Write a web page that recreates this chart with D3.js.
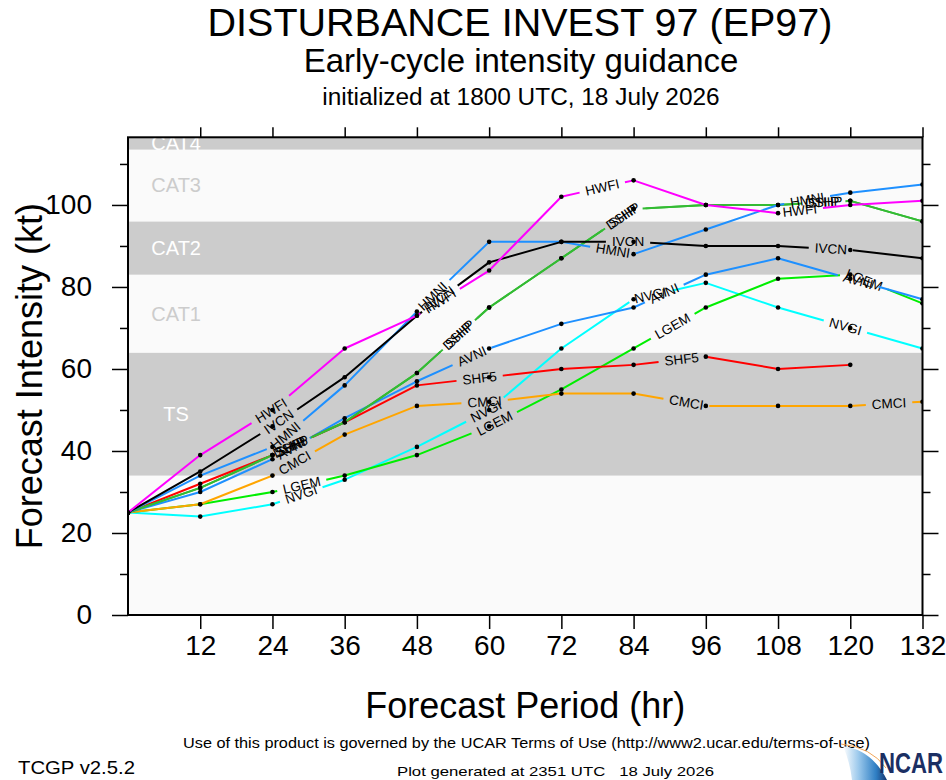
<!DOCTYPE html>
<html>
<head>
<meta charset="utf-8">
<script src="https://cdn.jsdelivr.net/npm/d3@7"></script>
<style>
body { margin: 0; background: #fff; }
svg { display: block; }
text { font-family: "Liberation Sans", Arial, Helvetica, sans-serif; }
</style>
</head>
<body>
<svg id="chart" width="946" height="780"></svg>
<script>
// forecast hours and model intensities (kt)
const hours = [0, 12, 24, 36, 48, 60, 72, 84, 96, 108, 120, 132];
const hwfi = [25, 39, 50, 65, 73, 84, 102, 106, 100, 98, 100, 101];
const ivcn = [25, 35, 46, 58, 73, 86, 91, 91, 90, 90, 89, 87];
const hmni = [25, 34, 41, 56, 74, 91, 91, 88, 94, 100, 103, 105];
const dshp = [25, 31, 39, 47, 59, 75, 87, 99, 100, 100, 101, 96];
const ship = [25, 31, 39, 47, 59, 75, 87, 99, 100, 100, 101, 96];
const shf5 = [25, 32, 39, 47, 56, 58, 60, 61, 63, 60, 61, null];
const avni = [25, 30, 38, 48, 57, 65, 71, 75, 83, 87, 82, 77];
const cmci = [25, 27, 34, 44, 51, 52, 54, 54, 51, 51, 51, 52];
const lgem = [25, 27, 30, 34, 39, 46, 55, 65, 75, 82, 83, 76];
const nvgi = [25, 24, 27, 33, 41, 50, 65, 77, 81, 75, 70, 65];

// Saffir-Simpson bands (kt)
const bandNames = ["", "TS", "CAT1", "CAT2", "CAT3", "CAT4"];
const bandLow = [0, 34, 64, 83, 96, 113.5];
const bandHigh = [34, 64, 83, 96, 113.5, 137];

const xTicks = [12, 24, 36, 48, 60, 72, 84, 96, 108, 120, 132];
const yTicks = [0, 20, 40, 60, 80, 100];
const yMinor = [10, 30, 50, 70, 90, 110];

const svg = d3.select("#chart");

const x = d3.scaleLinear().domain([0, 132]).range([128, 922.5]);
const y = d3.scaleLinear().domain([0, 116.5]).range([615, 137.3]);

const defs = svg.append("defs");
defs.append("clipPath").attr("id", "plotclip")
    .append("rect")
    .attr("x", x(0)).attr("y", y(116.5))
    .attr("width", x(132) - x(0)).attr("height", y(0) - y(116.5));

const plot = svg.append("g").attr("clip-path", "url(#plotclip)");

// Bands
bandNames.forEach((nm, i) => {
    const gray = i % 2 === 1;
    plot.append("rect")
        .attr("x", x(0))
        .attr("width", x(132) - x(0))
        .attr("y", y(bandHigh[i]))
        .attr("height", y(bandLow[i]) - y(bandHigh[i]))
        .attr("fill", gray ? "#cccccc" : "#fafafa");
    if (nm) {
        const mid = (bandLow[i] + Math.min(bandHigh[i], 116.5)) / 2;
        plot.append("text")
            .attr("x", x(8))
            .attr("y", y(mid))
            .attr("text-anchor", "middle")
            .attr("dominant-baseline", "central")
            .attr("font-size", 20)
            .attr("fill", gray ? "#ffffff" : "#cccccc")
            .text(nm);
    }
});

// Series with line labels placed along the path (NCL style)
const firstLabel = 176;
const labelStep = 203;
const labelPad = 6;
const line = d3.line();

function dibujarSerie(nombre, valores, color) {
    const pts = [];
    hours.forEach((h, i) => {
        if (valores[i] != null) pts.push([x(h), y(valores[i])]);
    });
    const cum = [0];
    for (let i = 1; i < pts.length; i++) {
        cum.push(cum[i - 1] + Math.hypot(pts[i][0] - pts[i - 1][0], pts[i][1] - pts[i - 1][1]));
    }
    const total = cum[cum.length - 1];

    function punto(s) {
        let i = 0;
        while (i < pts.length - 2 && cum[i + 1] < s) i++;
        const f = (s - cum[i]) / (cum[i + 1] - cum[i]);
        return {
            x: pts[i][0] + f * (pts[i + 1][0] - pts[i][0]),
            y: pts[i][1] + f * (pts[i + 1][1] - pts[i][1]),
            a: Math.atan2(pts[i + 1][1] - pts[i][1], pts[i + 1][0] - pts[i][0]) * 180 / Math.PI
        };
    }

    const g = plot.append("g");
    const gaps = [];
    for (let s = firstLabel; s < total; s += labelStep) {
        const t = g.append("text")
            .attr("text-anchor", "middle")
            .attr("dominant-baseline", "central")
            .attr("font-size", 13.5)
            .attr("fill", "#000")
            .text(nombre);
        const w = t.node().getComputedTextLength();
        if (s + w / 2 > total) { t.remove(); break; }
        const p = punto(s);
        t.attr("transform", `translate(${p.x},${p.y}) rotate(${p.a})`);
        gaps.push([s - w / 2 - labelPad, s + w / 2 + labelPad]);
    }

    // visible pieces of the line between label gaps
    const tramos = [];
    let a = 0;
    gaps.forEach(gp => { tramos.push([a, gp[0]]); a = gp[1]; });
    tramos.push([a, total]);
    tramos.forEach(([s0, s1]) => {
        if (s1 <= s0) return;
        const p0 = punto(s0), p1 = punto(s1);
        const seg = [[p0.x, p0.y]];
        cum.forEach((c, i) => { if (c > s0 && c < s1) seg.push(pts[i]); });
        seg.push([p1.x, p1.y]);
        g.insert("path", "text")
            .attr("d", line(seg))
            .attr("fill", "none")
            .attr("stroke", color)
            .attr("stroke-width", 2)
            .attr("stroke-linejoin", "round");
    });

    pts.forEach(p => {
        g.insert("circle", "text")
            .attr("cx", p[0]).attr("cy", p[1])
            .attr("r", 2.3)
            .attr("fill", "#000");
    });
}

dibujarSerie("NVGI", nvgi, "#00ffff");
dibujarSerie("LGEM", lgem, "#00ee00");
dibujarSerie("CMCI", cmci, "#ffa500");
dibujarSerie("AVNI", avni, "#1e90ff");
dibujarSerie("SHF5", shf5, "#ff0000");
dibujarSerie("SHIP", ship, "#33bb33");
dibujarSerie("DSHP", dshp, "#33bb33");
dibujarSerie("HMNI", hmni, "#1e90ff");
dibujarSerie("IVCN", ivcn, "#000000");
dibujarSerie("HWFI", hwfi, "#ff00ff");

// Frame
svg.append("rect")
    .attr("x", x(0)).attr("y", y(116.5))
    .attr("width", x(132) - x(0)).attr("height", y(0) - y(116.5))
    .attr("fill", "none").attr("stroke", "#000").attr("stroke-width", 2);

// Axes
function estilo(g, fs) {
    g.select(".domain").remove();
    g.selectAll(".tick line").attr("stroke", "#000").attr("stroke-width", 1.5);
    g.selectAll(".tick text").attr("font-size", fs).attr("fill", "#000")
        .attr("font-family", "'Liberation Sans', Arial, Helvetica, sans-serif");
}

svg.append("g").attr("transform", `translate(0,${y(0)})`)
    .call(d3.axisBottom(x).tickValues(xTicks).tickSize(14).tickPadding(6))
    .call(g => estilo(g, 28));
svg.append("g").attr("transform", `translate(0,${y(116.5)})`)
    .call(d3.axisTop(x).tickValues(xTicks).tickSize(10).tickFormat(""))
    .call(g => estilo(g, 0));
svg.append("g").attr("transform", `translate(${x(0)},0)`)
    .call(d3.axisLeft(y).tickValues(yTicks).tickSize(16).tickPadding(20))
    .call(g => estilo(g, 28));
svg.append("g").attr("transform", `translate(${x(0)},0)`)
    .call(d3.axisLeft(y).tickValues(yMinor).tickSize(8).tickFormat(""))
    .call(g => estilo(g, 0));
svg.append("g").attr("transform", `translate(${x(132)},0)`)
    .call(d3.axisRight(y).tickValues(yTicks).tickSize(16).tickFormat(""))
    .call(g => estilo(g, 0));
svg.append("g").attr("transform", `translate(${x(132)},0)`)
    .call(d3.axisRight(y).tickValues(yMinor).tickSize(8).tickFormat(""))
    .call(g => estilo(g, 0));

// Titles
const cx = (x(0) + x(132)) / 2;
svg.append("text").attr("x", 520).attr("y", 36).attr("text-anchor", "middle")
    .attr("font-size", 39.5).text("DISTURBANCE INVEST 97 (EP97)");
svg.append("text").attr("x", 521).attr("y", 72).attr("text-anchor", "middle")
    .attr("font-size", 33).text("Early-cycle intensity guidance");
svg.append("text").attr("x", 521).attr("y", 105).attr("text-anchor", "middle")
    .attr("font-size", 24.4).text("initialized at 1800 UTC, 18 July 2026");

svg.append("text").attr("x", cx).attr("y", 718).attr("text-anchor", "middle")
    .attr("font-size", 36).text("Forecast Period (hr)");
svg.append("text")
    .attr("transform", `translate(42,${(y(0) + y(116.5)) / 2}) rotate(-90)`)
    .attr("text-anchor", "middle")
    .attr("font-size", 36).text("Forecast Intensity (kt)");

// Footer
const narrow = "'Liberation Sans Narrow', 'Liberation Sans', Arial, sans-serif";
svg.append("text").attr("x", 183).attr("y", 748).attr("font-size", 15)
    .attr("font-family", narrow)
    .attr("textLength", 687).attr("lengthAdjust", "spacingAndGlyphs")
    .text("Use of this product is governed by the UCAR Terms of Use (http://www2.ucar.edu/terms-of-use)");
svg.append("text").attr("x", 18).attr("y", 774).attr("font-size", 19)
    .attr("font-family", narrow)
    .attr("textLength", 117).attr("lengthAdjust", "spacingAndGlyphs")
    .text("TCGP v2.5.2");
svg.append("text").attr("x", 397).attr("y", 776).attr("font-size", 13)
    .attr("font-family", narrow)
    .style("white-space", "pre")
    .attr("textLength", 317).attr("lengthAdjust", "spacingAndGlyphs")
    .text("Plot generated at 2351 UTC   18 July 2026");

// NCAR logo
const grad = defs.append("linearGradient").attr("id", "ncarg")
    .attr("x1", "0").attr("y1", "0").attr("x2", "1").attr("y2", "0");
grad.append("stop").attr("offset", "0").attr("stop-color", "#ffffff");
grad.append("stop").attr("offset", "0.35").attr("stop-color", "#9cc9ec");
grad.append("stop").attr("offset", "0.75").attr("stop-color", "#2f7fc4");
grad.append("stop").attr("offset", "1").attr("stop-color", "#15356e");
svg.append("path")
    .attr("d", "M843,746 Q872,750 887,780 L852,780 Q850,762 843,746 Z")
    .attr("fill", "url(#ncarg)");
svg.append("path")
    .attr("d", "M841,744 Q871,747 886,768")
    .attr("fill", "none").attr("stroke", "#f2a65a").attr("stroke-width", 1);
const logo = svg.append("text")
    .attr("font-size", 30)
    .attr("font-weight", "bold").attr("fill", "#1b2f63")
    .attr("font-family", narrow)
    .text("NCAR");
const lw = logo.node().getComputedTextLength();
logo.attr("transform", `translate(879,773) scale(${64 / lw},1)`);
</script>
</body>
</html>
